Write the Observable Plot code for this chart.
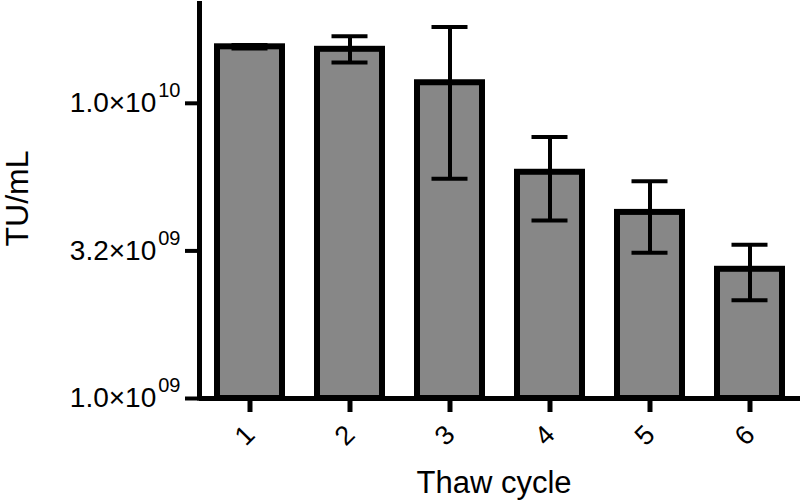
<!DOCTYPE html>
<html><head><meta charset="utf-8">
<script src="https://cdn.jsdelivr.net/npm/d3@7"></script>
<script src="https://cdn.jsdelivr.net/npm/@observablehq/plot@0.6"></script>
<style>body{margin:0;background:#fff}</style>
</head><body><div id="chart"></div>
<script>
const cycles = ["1", "2", "3", "4", "5", "6"];
const means = [1.554e10, 1.524e10, 1.174e10, 5.84e9, 4.27e9, 2.74e9];
const errLow = [1.535e10, 1.374e10, 5.556e9, 4.01e9, 3.12e9, 2.15e9];
const errHigh = [1.575e10, 1.687e10, 1.814e10, 7.69e9, 5.44e9, 3.32e9];
const yTicks = [1e9, 3.1623e9, 1e10];
const yTickMain = ["1.0×10", "3.2×10", "1.0×10"];
const yTickExp = ["09", "09", "10"];
const xTitle = "Thaw cycle";
const yTitle = "TU/mL";

const data = cycles.map((c, i) => ({cycle: c, mean: means[i], lo: errLow[i], hi: errHigh[i]}));
const font = "'Liberation Sans', Arial, sans-serif";

const plot = Plot.plot({
  width: 800, height: 503,
  marginLeft: 199, marginRight: 0, marginTop: 0, marginBottom: 105,
  style: {fontFamily: font, background: "white", overflow: "visible", color: "black"},
  x: {type: "band", domain: cycles, paddingInner: 0.35, paddingOuter: 0.175, label: null},
  y: {type: "log", domain: [1e9, 2.23e10], label: null},
  marks: [
    Plot.barY(data, {x: "cycle", y1: 1e9, y2: "mean", fill: "#878787", stroke: "black", strokeWidth: 6}),
    Plot.ruleX(data, {x: "cycle", y1: "lo", y2: "hi", stroke: "black", strokeWidth: 4}),
    Plot.tickY(data, {x: "cycle", y: "lo", insetLeft: 14.5, insetRight: 14.5, stroke: "black", strokeWidth: 4}),
    Plot.tickY(data, {x: "cycle", y: "hi", insetLeft: 14.5, insetRight: 14.5, stroke: "black", strokeWidth: 4}),
    Plot.ruleY([1e9], {stroke: "black", strokeWidth: 5}),
    Plot.axisY({ticks: yTicks, tickSize: 14, strokeWidth: 4, tickPadding: 5, fontSize: 28,
      tickFormat: d => yTickMain[yTicks.findIndex(t => Math.abs(t - d) / t < 1e-3)], label: null}),
    Plot.axisX({tickSize: 14, strokeWidth: 5, tickFormat: () => "", label: null}),
    Plot.text(data, {x: "cycle", text: "cycle", frameAnchor: "bottom", dy: 37, dx: -5, rotate: -45,
      fontSize: 27, textAnchor: "middle", lineAnchor: "middle", fill: "black"}),
    Plot.text([yTitle], {text: d => d, frameAnchor: "left", dx: -182, dy: -1, rotate: -90, fontSize: 32,
      textAnchor: "middle", lineAnchor: "middle", fill: "black"}),
    Plot.text([xTitle], {text: d => d, frameAnchor: "bottom", dx: -6, dy: 85, fontSize: 31,
      textAnchor: "middle", lineAnchor: "middle", fill: "black"})
  ]
});

const svg = d3.select(plot);
svg.selectAll('g[aria-label="y-axis tick label"] text').each(function(d, i) {
  const t = d3.select(this);
  t.attr("font-size", 28);
  const v = typeof d === "number" ? d : yTicks[i];
  const k = yTicks.findIndex(tk => Math.abs(tk - v) / tk < 1e-3);
  t.append("tspan").attr("dy", "-0.75em").attr("dx", 2).attr("font-size", 20).text(yTickExp[k >= 0 ? k : i]);
});
svg.append("line").attr("x1", 199.5).attr("x2", 199.5).attr("y1", 1).attr("y2", 400.5)
  .attr("stroke", "black").attr("stroke-width", 5);

document.getElementById("chart").appendChild(plot);
</script>
</body></html>
